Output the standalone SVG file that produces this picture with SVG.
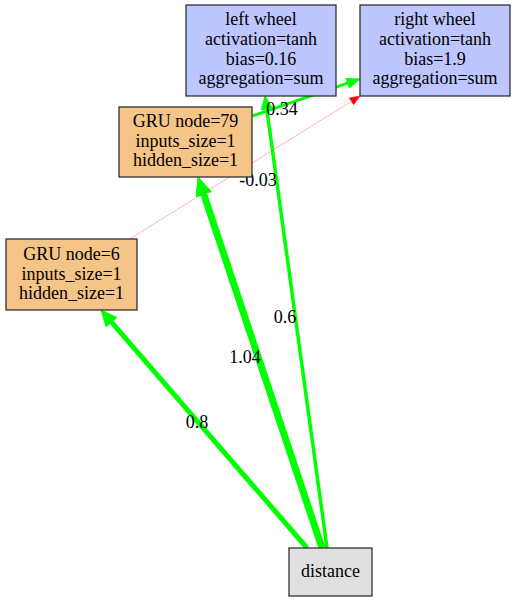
<svg xmlns="http://www.w3.org/2000/svg" width="515" height="601" viewBox="0 0 515 601">
<style>
text{font-family:'Liberation Serif','Times New Roman','DejaVu Serif',serif;font-size:18px;fill:#000;text-anchor:middle}
.box{stroke:#222;stroke-width:1.2}
.out{fill:#bec6ff}
.gru{fill:#f5c487}
.inp{fill:#e0e0e0}
.g{stroke:#00ff00;fill:none}
.gh{fill:#00ff00;stroke:#00ff00}
</style>
<rect width="515" height="601" fill="#fff"/>
<g id="connectors">
<line class="g" x1="307" y1="548" x2="111.5" y2="322.1" stroke-width="5"/>
<polygon class="gh" points="101,310 116.8,317.5 106.2,326.7"/>
<line class="g" x1="322" y1="548" x2="203.7" y2="194.1" stroke-width="7"/>
<polygon class="gh" points="198,177 211.3,191.6 196.1,196.6"/>
<line class="g" x1="327" y1="548" x2="266.8" y2="108.9" stroke-width="3.5"/>
<polygon class="gh" points="265,96 272.3,108.2 261.4,109.6"/>
<line class="g" x1="252" y1="116" x2="347.7" y2="83.2" stroke-width="3"/>
<polygon class="gh" points="360,79 349.3,87.9 346.1,78.5"/>
<line x1="128" y1="240" x2="351.5" y2="101.3" stroke="#ff0000" stroke-width="0.5" stroke-opacity="0.6"/>
<polygon points="360,96 353.6,104.7 349.4,97.9" fill="#ff0000" stroke="#ff0000" stroke-width="0.5"/>
<text x="282" y="115">0.34</text>
<text x="258" y="186">-0.03</text>
<text x="285" y="323">0.6</text>
<text x="245" y="363">1.04</text>
<text x="197" y="428">0.8</text>
</g>
<g id="left_wheel">
<rect class="box out" x="186" y="5" width="150" height="91"/>
<text x="261" y="25">left wheel</text>
<text x="261" y="45">activation=tanh</text>
<text x="261" y="65">bias=0.16</text>
<text x="261" y="84">aggregation=sum</text>
</g>
<g id="right_wheel">
<rect class="box out" x="360" y="5" width="150" height="91"/>
<text x="435" y="25">right wheel</text>
<text x="435" y="45">activation=tanh</text>
<text x="435" y="65">bias=1.9</text>
<text x="435" y="84">aggregation=sum</text>
</g>
<g id="gru79">
<rect class="box gru" x="119" y="107" width="133" height="70"/>
<text x="185.5" y="127">GRU node=79</text>
<text x="185.5" y="147">inputs_size=1</text>
<text x="185.5" y="166">hidden_size=1</text>
</g>
<g id="gru6">
<rect class="box gru" x="6" y="239" width="131" height="71"/>
<text x="71.5" y="260">GRU node=6</text>
<text x="71.5" y="280">inputs_size=1</text>
<text x="71.5" y="299">hidden_size=1</text>
</g>
<g id="distance">
<rect class="box inp" x="289" y="548" width="83" height="48"/>
<text x="330.5" y="577">distance</text>
</g>
</svg>
